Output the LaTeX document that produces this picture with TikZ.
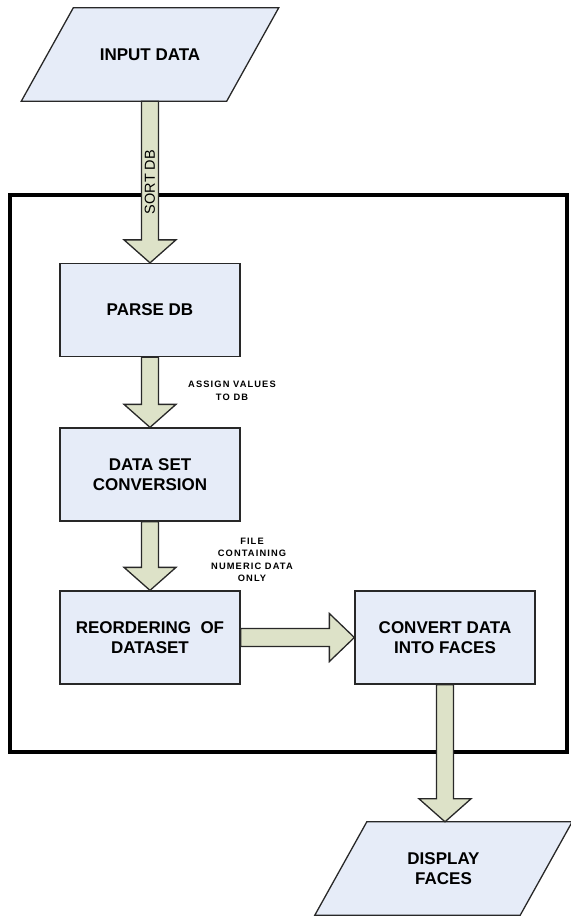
\documentclass[tikz,border=0pt]{standalone}
\usepackage{fontspec}
\setmainfont{Liberation Sans}
\newfontfamily\spacedfont[LetterSpace=12]{Liberation Sans}
\usetikzlibrary{calc}
\pgfdeclarelayer{background}
\pgfsetlayers{background,main}
\definecolor{boxfill}{RGB}{230,236,248}
\definecolor{arrfill}{RGB}{221,226,200}
\definecolor{edgecol}{RGB}{40,40,40}
\tikzset{
 procbox/.style={draw=edgecol, fill=boxfill, line width=1.3pt, minimum width=180pt, minimum height=93pt, align=center, font=\fontsize{17}{20}\selectfont\bfseries, inner sep=0pt},
 iobox/.style={minimum width=205pt, minimum height=93pt, align=center, font=\fontsize{17}{20}\selectfont\bfseries, inner sep=0pt},
 ioshape/.style={draw=edgecol, fill=boxfill, line width=1.3pt, line join=miter},
 blockarr/.style={draw=edgecol, fill=arrfill, line width=1.3pt, line join=miter},
 smalllabel/.style={align=center, font=\spacedfont\fontsize{9.3}{12.5}\selectfont\bfseries},
 framebox/.style={draw=black, line width=3.5pt, minimum width=557pt, minimum height=557pt, inner sep=0pt}
}
\newcommand{\downblk}[2]{%
 \draw[blockarr] let \p1=(#1.south), \p2=(#2.north) in
   (\x1-8.5pt,\y1) -- (\x1-8.5pt,\y2+23pt) -- (\x1-26pt,\y2+23pt) -- (\x1,\y2)
   -- (\x1+26pt,\y2+23pt) -- (\x1+8.5pt,\y2+23pt) -- (\x1+8.5pt,\y1) -- cycle;}
\newcommand{\parashape}[1]{%
 \begin{pgfonlayer}{background}
 \draw[ioshape] ($(#1.north west)+(26,0)$) -- ($(#1.north east)+(26,0)$)
   -- ($(#1.south east)+(-26,0)$) -- ($(#1.south west)+(-26,0)$) -- cycle;
 \end{pgfonlayer}}
\begin{document}
\begin{tikzpicture}[x=1pt,y=-1pt]
\useasboundingbox (0,0) rectangle (570,917);
\node[framebox] (frame) at (288.5,473.5) {};
\node[iobox] (inputdata) at (150,54.5) {INPUT DATA};
\parashape{inputdata}
\node[procbox] (parse) at (150,310) {PARSE DB};
\node[procbox] (dsc) at (150,474.5) {DATA SET\\CONVERSION};
\node[procbox] (reorder) at (150,637.5) {REORDERING~ OF\\DATASET};
\node[procbox] (convert) at (445,637.5) {CONVERT DATA\\INTO FACES};
\node[iobox] (display) at (443.5,868.5) {DISPLAY\\FACES};
\parashape{display}
\downblk{inputdata}{parse}
\downblk{parse}{dsc}
\downblk{dsc}{reorder}
\downblk{convert}{display}
\draw[blockarr] let \p1=(reorder.east), \p2=(convert.west) in
   (\x1,\y1+9pt) -- (\x2-25pt,\y1+9pt) -- (\x2-25pt,\y1+24pt) -- (\x2,\y1)
   -- (\x2-25pt,\y1-24pt) -- (\x2-25pt,\y1-9pt) -- (\x1,\y1-9pt) -- cycle;
\node[rotate=90, font=\fontsize{14.5}{16}\selectfont] (sortlbl) at (150,182) {SORT DB};
\node[smalllabel] (assignlbl) at (232,391) {ASSIGN VALUES\\TO DB};
\node[smalllabel] (filelbl) at (252,560) {FILE\\CONTAINING\\NUMERIC DATA\\ONLY};
\end{tikzpicture}
\end{document}
